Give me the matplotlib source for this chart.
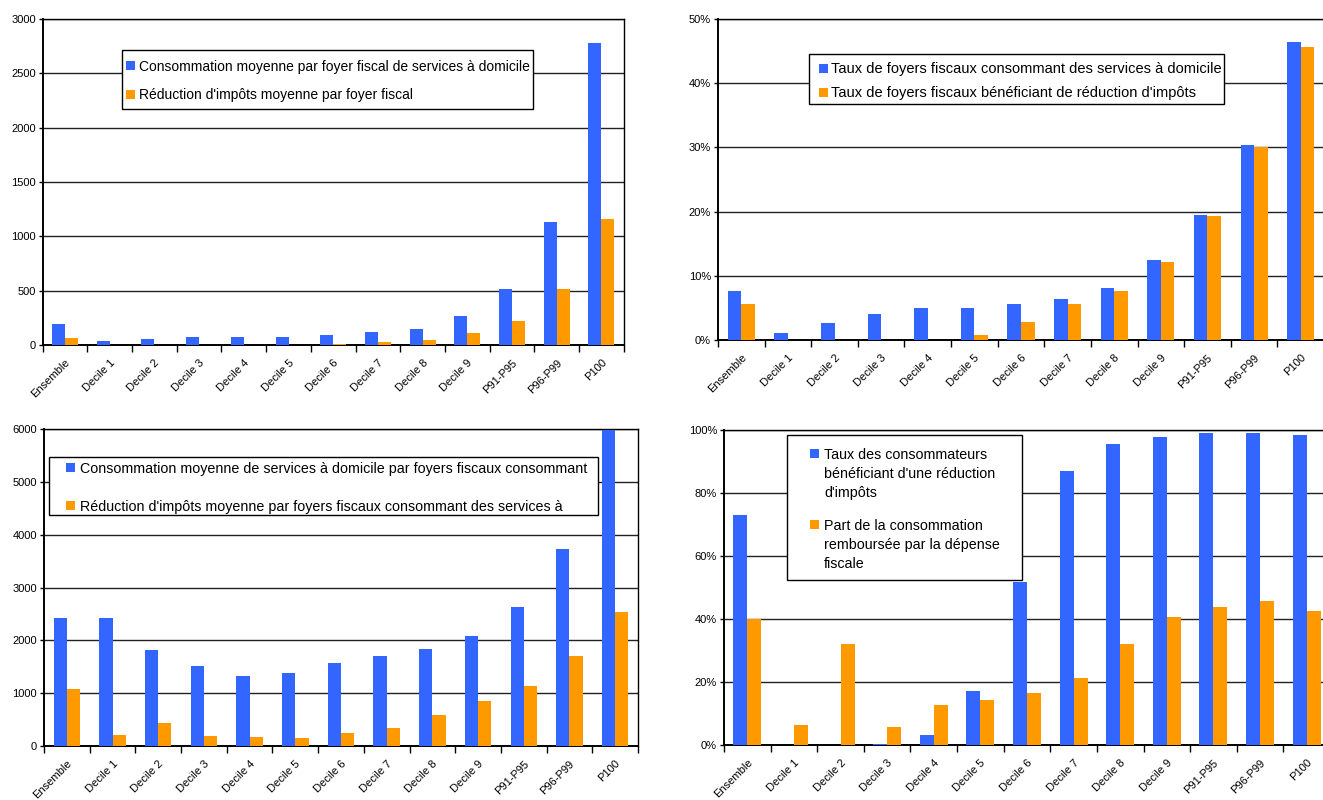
import numpy as np
import matplotlib
matplotlib.use('Agg')
import matplotlib.pyplot as plt
from matplotlib.patches import Rectangle
from matplotlib.ticker import FuncFormatter, FixedLocator

plt.rcParams['font.family'] = ['Liberation Sans', 'DejaVu Sans']

BLUE = '#3366FF'
ORANGE = '#FF9900'

categories = ['Ensemble', 'Decile 1', 'Decile 2', 'Decile 3', 'Decile 4', 'Decile 5',
              'Decile 6', 'Decile 7', 'Decile 8', 'Decile 9', 'P91-P95', 'P96-P99', 'P100']

# consommation et réduction moyennes par foyer fiscal (euros)
conso_foyer = [192, 37, 55, 74, 74, 74, 92, 120, 147, 267, 515, 1132, 2779]
reduc_foyer = [62, 0, 0, 0, 0, 0, 5, 30, 45, 112, 220, 515, 1160]

# taux de foyers consommant / bénéficiant (%)
taux_conso = [7.6, 1.1, 2.65, 4.05, 5.0, 5.0, 5.6, 6.4, 8.1, 12.5, 19.5, 30.4, 46.4]
taux_reduc = [5.6, 0, 0, 0, 0, 0.8, 2.8, 5.6, 7.6, 12.15, 19.3, 30.0, 45.6]

# moyennes par foyer consommant (euros)
conso_consommant = [2421, 2421, 1814, 1511, 1321, 1378, 1568, 1700, 1833, 2080, 2630, 3730, 5990]
reduc_consommant = [1075, 202, 430, 183, 164, 145, 240, 335, 582, 847, 1131, 1700, 2535]

# taux de bénéficiaires parmi les consommateurs et part remboursée (%)
taux_benef = [73.0, 0, 0, 0.2, 3.2, 17.1, 51.7, 87.0, 95.6, 97.8, 99.0, 99.0, 98.4]
part_remb = [40.0, 6.3, 32.1, 5.7, 12.7, 14.3, 16.5, 21.3, 32.1, 40.6, 43.8, 45.7, 42.5]

W, H = 1323, 800
fig = plt.figure(figsize=(W / 100, H / 100), dpi=100)


def fx(x):
    return x / W


def fy(y):
    return 1 - y / H


def px_axes(x0, y0, x1, y1):
    return fig.add_axes([fx(x0), fy(y1), (x1 - x0) / W, (y1 - y0) / H])


def draw_panel(ax, blue, orange, ymax, step, pct, width=0.29):
    x = np.arange(len(categories))
    ax.bar(x - width / 2, blue, width, color=BLUE, zorder=3)
    ax.bar(x + width / 2, orange, width, color=ORANGE, zorder=3)
    ax.set_xlim(-0.5, len(categories) - 0.5)
    ax.set_ylim(0, ymax)
    ax.set_yticks(np.arange(0, ymax + step / 2, step))
    if pct:
        ax.yaxis.set_major_formatter(FuncFormatter(lambda v, p: f'{v:.0f}%'))
    ax.grid(axis='y', color='#222222', linewidth=1, zorder=1)
    # ticks between categories, labels at the centres
    ax.xaxis.set_major_locator(FixedLocator(np.arange(-0.5, len(categories) + 0.5, 1)))
    ax.xaxis.set_major_formatter(FuncFormatter(lambda v, p: ''))
    ax.set_xticks(x, minor=True)
    ax.set_xticklabels(categories, minor=True, rotation=45, ha='right',
                       rotation_mode='anchor', fontsize=8)
    ax.tick_params(axis='x', which='minor', length=0, pad=9)
    ax.tick_params(axis='x', which='major', length=5, direction='out', width=1)
    ax.tick_params(axis='y', length=3, direction='out', width=1, labelsize=8, pad=2)
    for s in ax.spines.values():
        s.set_color('black')
        s.set_linewidth(1)
    ax.spines['left'].set_linewidth(1.4)
    ax.spines['bottom'].set_linewidth(1.4)


def box_legend(box, entries, fontsize, sq=9, linespacing=1.3):
    # framed legend laid out in figure pixels: (square x, text x, first line y, label)
    x0, y0, x1, y1 = box
    fig.patches.append(Rectangle((fx(x0), fy(y1)), (x1 - x0) / W, (y1 - y0) / H,
                                 transform=fig.transFigure, facecolor='white',
                                 edgecolor='black', linewidth=1, zorder=5))
    for color, (sx, tx, ty, label) in zip([BLUE, ORANGE], entries):
        fig.patches.append(Rectangle((fx(sx), fy(ty + sq / 2)), sq / W, sq / H,
                                     transform=fig.transFigure, facecolor=color,
                                     edgecolor='none', zorder=6))
        nlines = label.count('\n') + 1
        if nlines == 1:
            fig.text(fx(tx), fy(ty), label, fontsize=fontsize, ha='left',
                     va='center_baseline', zorder=7)
        else:
            fig.text(fx(tx), fy(ty - fontsize * 1.39 * 0.5 * 0.72), label,
                     fontsize=fontsize, ha='left', va='top',
                     linespacing=linespacing, zorder=7)


ax1 = px_axes(42.7, 19, 623.7, 345)
draw_panel(ax1, conso_foyer, reduc_foyer, 3000, 500, False)
box_legend((122, 50, 533, 109),
           [(126, 139, 65, 'Consommation moyenne par foyer fiscal de services à domicile'),
            (126, 139, 94, "Réduction d'impôts moyenne par foyer fiscal")], 10)

ax2 = px_axes(718, 19, 1324, 340)
draw_panel(ax2, taux_conso, taux_reduc, 50, 10, True)
box_legend((809, 54, 1224, 104),
           [(819, 831, 68, 'Taux de foyers fiscaux consommant des services à domicile'),
            (819, 831, 92, "Taux de foyers fiscaux bénéficiant de réduction d'impôts")], 10.5)

ax3 = px_axes(44, 429, 638, 746)
draw_panel(ax3, conso_consommant, reduc_consommant, 6000, 1000, False)
box_legend((49, 457, 598, 515),
           [(66, 80, 468, 'Consommation moyenne de services à domicile par foyers fiscaux consommant'),
            (66, 80, 505, "Réduction d'impôts moyenne par foyers fiscaux consommant des services à")], 10.3)

ax4 = px_axes(724, 430, 1330, 745)
draw_panel(ax4, taux_benef, part_remb, 100, 20, True, width=0.3)
box_legend((787, 435, 1022, 580),
           [(810, 824, 453, "Taux des consommateurs\nbénéficiant d'une réduction\nd'impôts"),
            (810, 824, 524, 'Part de la consommation\nremboursée par la dépense\nfiscale')],
           10.3, linespacing=1.45)

fig.savefig('out.png', dpi=100)
